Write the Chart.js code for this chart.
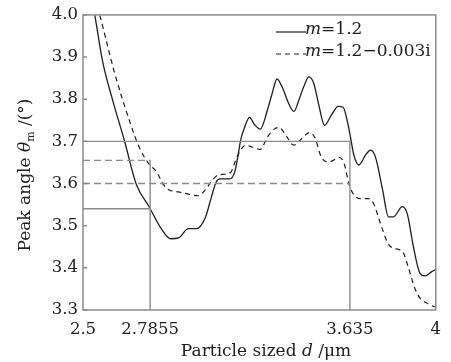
<!DOCTYPE html>
<html>
<head>
<meta charset="utf-8">
<script src="https://cdn.jsdelivr.net/npm/chart.js@4/dist/chart.umd.min.js"></script>
<style>
html, body { margin: 0; padding: 0; background: #fff; }
</style>
</head>
<body>
<canvas id="c" width="451" height="362"></canvas>
<script>
// particle size d (um) and peak angle (deg), m = 1.2
var sizeSolid = [2.53, 2.550, 2.584, 2.626, 2.676, 2.726, 2.781, 2.835, 2.873, 2.906, 2.948, 2.982, 3.020, 3.045,
    3.066, 3.082, 3.124, 3.145, 3.158, 3.170, 3.187, 3.208, 3.229, 3.254, 3.284, 3.304, 3.325, 3.346, 3.376,
    3.397, 3.418, 3.439, 3.460, 3.481, 3.502, 3.527, 3.556, 3.585, 3.606, 3.627, 3.640, 3.652, 3.673, 3.703,
    3.723, 3.744, 3.774, 3.799, 3.820, 3.858, 3.879, 3.904, 3.933, 3.954, 3.983, 4.0];
var angleSolid = [4.06, 4.0, 3.888, 3.798, 3.702, 3.599, 3.545, 3.491, 3.469, 3.471, 3.493, 3.493, 3.519, 3.566,
    3.603, 3.611, 3.611, 3.627, 3.662, 3.702, 3.733, 3.757, 3.740, 3.729, 3.774, 3.813, 3.848, 3.830, 3.788,
    3.771, 3.798, 3.830, 3.853, 3.838, 3.788, 3.738, 3.762, 3.783, 3.781, 3.740, 3.702, 3.667, 3.644, 3.669,
    3.679, 3.662, 3.585, 3.521, 3.521, 3.545, 3.528, 3.453, 3.387, 3.381, 3.391, 3.396];

// m = 1.2 - 0.003i
var sizeDashed = [2.55, 2.571, 2.634, 2.697, 2.739, 2.781, 2.810, 2.844, 2.865, 2.906, 2.948, 2.990, 3.020, 3.045,
    3.074, 3.103, 3.129, 3.149, 3.170, 3.191, 3.221, 3.254, 3.284, 3.313, 3.334, 3.355, 3.397, 3.422, 3.443,
    3.464, 3.485, 3.514, 3.543, 3.564, 3.589, 3.610, 3.631, 3.652, 3.682, 3.715, 3.736, 3.765, 3.795, 3.816,
    3.841, 3.862, 3.883, 3.912, 3.933, 3.967, 3.996];
var angleDashed = [4.04, 4.0, 3.863, 3.750, 3.686, 3.646, 3.630, 3.596, 3.585, 3.580, 3.575, 3.571, 3.585, 3.604,
    3.620, 3.622, 3.627, 3.655, 3.679, 3.691, 3.686, 3.681, 3.710, 3.729, 3.733, 3.721, 3.691, 3.702, 3.714,
    3.721, 3.710, 3.662, 3.651, 3.655, 3.662, 3.648, 3.599, 3.573, 3.564, 3.564, 3.552, 3.505, 3.460, 3.447,
    3.444, 3.436, 3.402, 3.350, 3.328, 3.315, 3.307];

// marked sizes and angles
var markSizes = [2.7855, 3.635];
var markAngles = [3.7, 3.655, 3.6, 3.54];

var xTicks = [2.5, 2.7855, 3.635, 4];
var xTickLabels = ['2.5', '2.7855', '3.635', '4'];
var yTicks = [3.3, 3.4, 3.5, 3.6, 3.7, 3.8, 3.9, 4.0];

var xMin = 2.5, xMax = 4, yMin = 3.3, yMax = 4.0;

function pts(xs, ys) {
    return xs.map(function (v, i) { return { x: v, y: ys[i] }; });
}

var fontName = "'DejaVu Serif', 'Liberation Serif', serif";
var grey = '#8c8c8c';
var ink = '#1e1e1e';

var guides = [
    // solid guide at 3.7 down to 3.635
    { data: [{ x: xMin, y: markAngles[0] }, { x: markSizes[1], y: markAngles[0] }, { x: markSizes[1], y: yMin }], dash: [] },
    // dashed guide at 3.655 down to 2.7855
    { data: [{ x: xMin, y: markAngles[1] }, { x: markSizes[0], y: markAngles[1] }], dash: [7, 4] },
    { data: [{ x: markSizes[0], y: markAngles[1] }, { x: markSizes[0], y: yMin }], dash: [] },
    // dashed guide at 3.6
    { data: [{ x: xMin, y: markAngles[2] }, { x: markSizes[1], y: markAngles[2] }], dash: [7, 4] },
    // solid guide at 3.54
    { data: [{ x: xMin, y: markAngles[3] }, { x: markSizes[0], y: markAngles[3] }], dash: [] }
];

var datasets = guides.map(function (g) {
    return {
        data: g.data, borderColor: grey, borderWidth: 1.4, borderDash: g.dash,
        pointRadius: 0, tension: 0, fill: false
    };
});
datasets.push({
    label: 'm=1.2', data: pts(sizeSolid, angleSolid), borderColor: ink, borderWidth: 1.3,
    pointRadius: 0, cubicInterpolationMode: 'monotone', fill: false
});
datasets.push({
    label: 'm=1.2-0.003i', data: pts(sizeDashed, angleDashed), borderColor: ink, borderWidth: 1.2,
    borderDash: [5, 4], pointRadius: 0, cubicInterpolationMode: 'monotone', fill: false
});

function drawParts(ctx, parts, x, y) {
    parts.forEach(function (p) {
        ctx.font = p.f;
        ctx.fillText(p.t, x, y + (p.dy || 0));
        x += ctx.measureText(p.t).width;
    });
}
function partsWidth(ctx, parts) {
    var w = 0;
    parts.forEach(function (p) { ctx.font = p.f; w += ctx.measureText(p.t).width; });
    return w;
}

var decor = {
    id: 'decor',
    afterDraw: function (chart) {
        var ctx = chart.ctx, a = chart.chartArea;
        var ys = chart.scales.y;
        ctx.save();
        // frame
        ctx.strokeStyle = grey;
        ctx.lineWidth = 1.5;
        ctx.setLineDash([]);
        ctx.strokeRect(a.left, a.top, a.right - a.left, a.bottom - a.top);
        // inward ticks
        ctx.beginPath();
        yTicks.forEach(function (v) {
            var p = ys.getPixelForValue(v);
            ctx.moveTo(a.left, p);
            ctx.lineTo(a.left + 4, p);
        });
        ctx.stroke();

        // legend
        ctx.fillStyle = ink;
        ctx.strokeStyle = ink;
        ctx.lineWidth = 1.2;
        ctx.textBaseline = 'alphabetic';
        ctx.beginPath();
        ctx.moveTo(276, 32); ctx.lineTo(306, 32);
        ctx.stroke();
        ctx.setLineDash([5, 4]);
        ctx.beginPath();
        ctx.moveTo(276, 54); ctx.lineTo(306, 54);
        ctx.stroke();
        ctx.setLineDash([]);
        var reg = '17px ' + fontName, it = 'italic 17px ' + fontName;
        drawParts(ctx, [{ t: 'm', f: it }, { t: '=1.2', f: reg }], 305, 34);
        drawParts(ctx, [{ t: 'm', f: it }, { t: '=1.2\u22120.003i', f: reg }], 305, 56);

        // x title
        var xt = [{ t: 'Particle sized ', f: reg }, { t: 'd', f: it }, { t: ' /\u03bcm', f: reg }];
        drawParts(ctx, xt, 266 - partsWidth(ctx, xt) / 2, 356);

        // y title
        var yt = [{ t: 'Peak angle ', f: reg }, { t: '\u03b8', f: it }, { t: 'm', f: '11px ' + fontName, dy: 4 },
            { t: ' /(\u00b0)', f: reg }];
        ctx.translate(30, 175);
        ctx.rotate(-Math.PI / 2);
        drawParts(ctx, yt, -partsWidth(ctx, yt) / 2, 0);
        ctx.restore();
    }
};

new Chart(document.getElementById('c'), {
    type: 'line',
    data: { datasets: datasets },
    plugins: [decor],
    options: {
        responsive: false,
        animation: false,
        layout: { padding: { top: 14, right: 10, left: 0, bottom: 0 } },
        plugins: { legend: { display: false }, tooltip: { enabled: false } },
        scales: {
            x: {
                type: 'linear', min: xMin, max: xMax,
                grid: { display: false, drawTicks: false },
                border: { display: false },
                afterBuildTicks: function (s) { s.ticks = xTicks.map(function (v) { return { value: v }; }); },
                afterFit: function (s) { s.height = 52; },
                ticks: {
                    autoSkip: false, maxRotation: 0, padding: 10, color: ink,
                    font: { family: fontName, size: 16.5 },
                    callback: function (v) { return xTickLabels[xTicks.indexOf(v)]; }
                }
            },
            y: {
                type: 'linear', min: yMin, max: yMax,
                grid: { display: false, drawTicks: false },
                border: { display: false },
                afterBuildTicks: function (s) { s.ticks = yTicks.map(function (v) { return { value: v }; }); },
                afterFit: function (s) { s.width = 83; },
                ticks: {
                    padding: 5, color: ink,
                    font: { family: fontName, size: 16.5 },
                    callback: function (v) { return v.toFixed(1); }
                }
            }
        }
    }
});
</script>
</body>
</html>
